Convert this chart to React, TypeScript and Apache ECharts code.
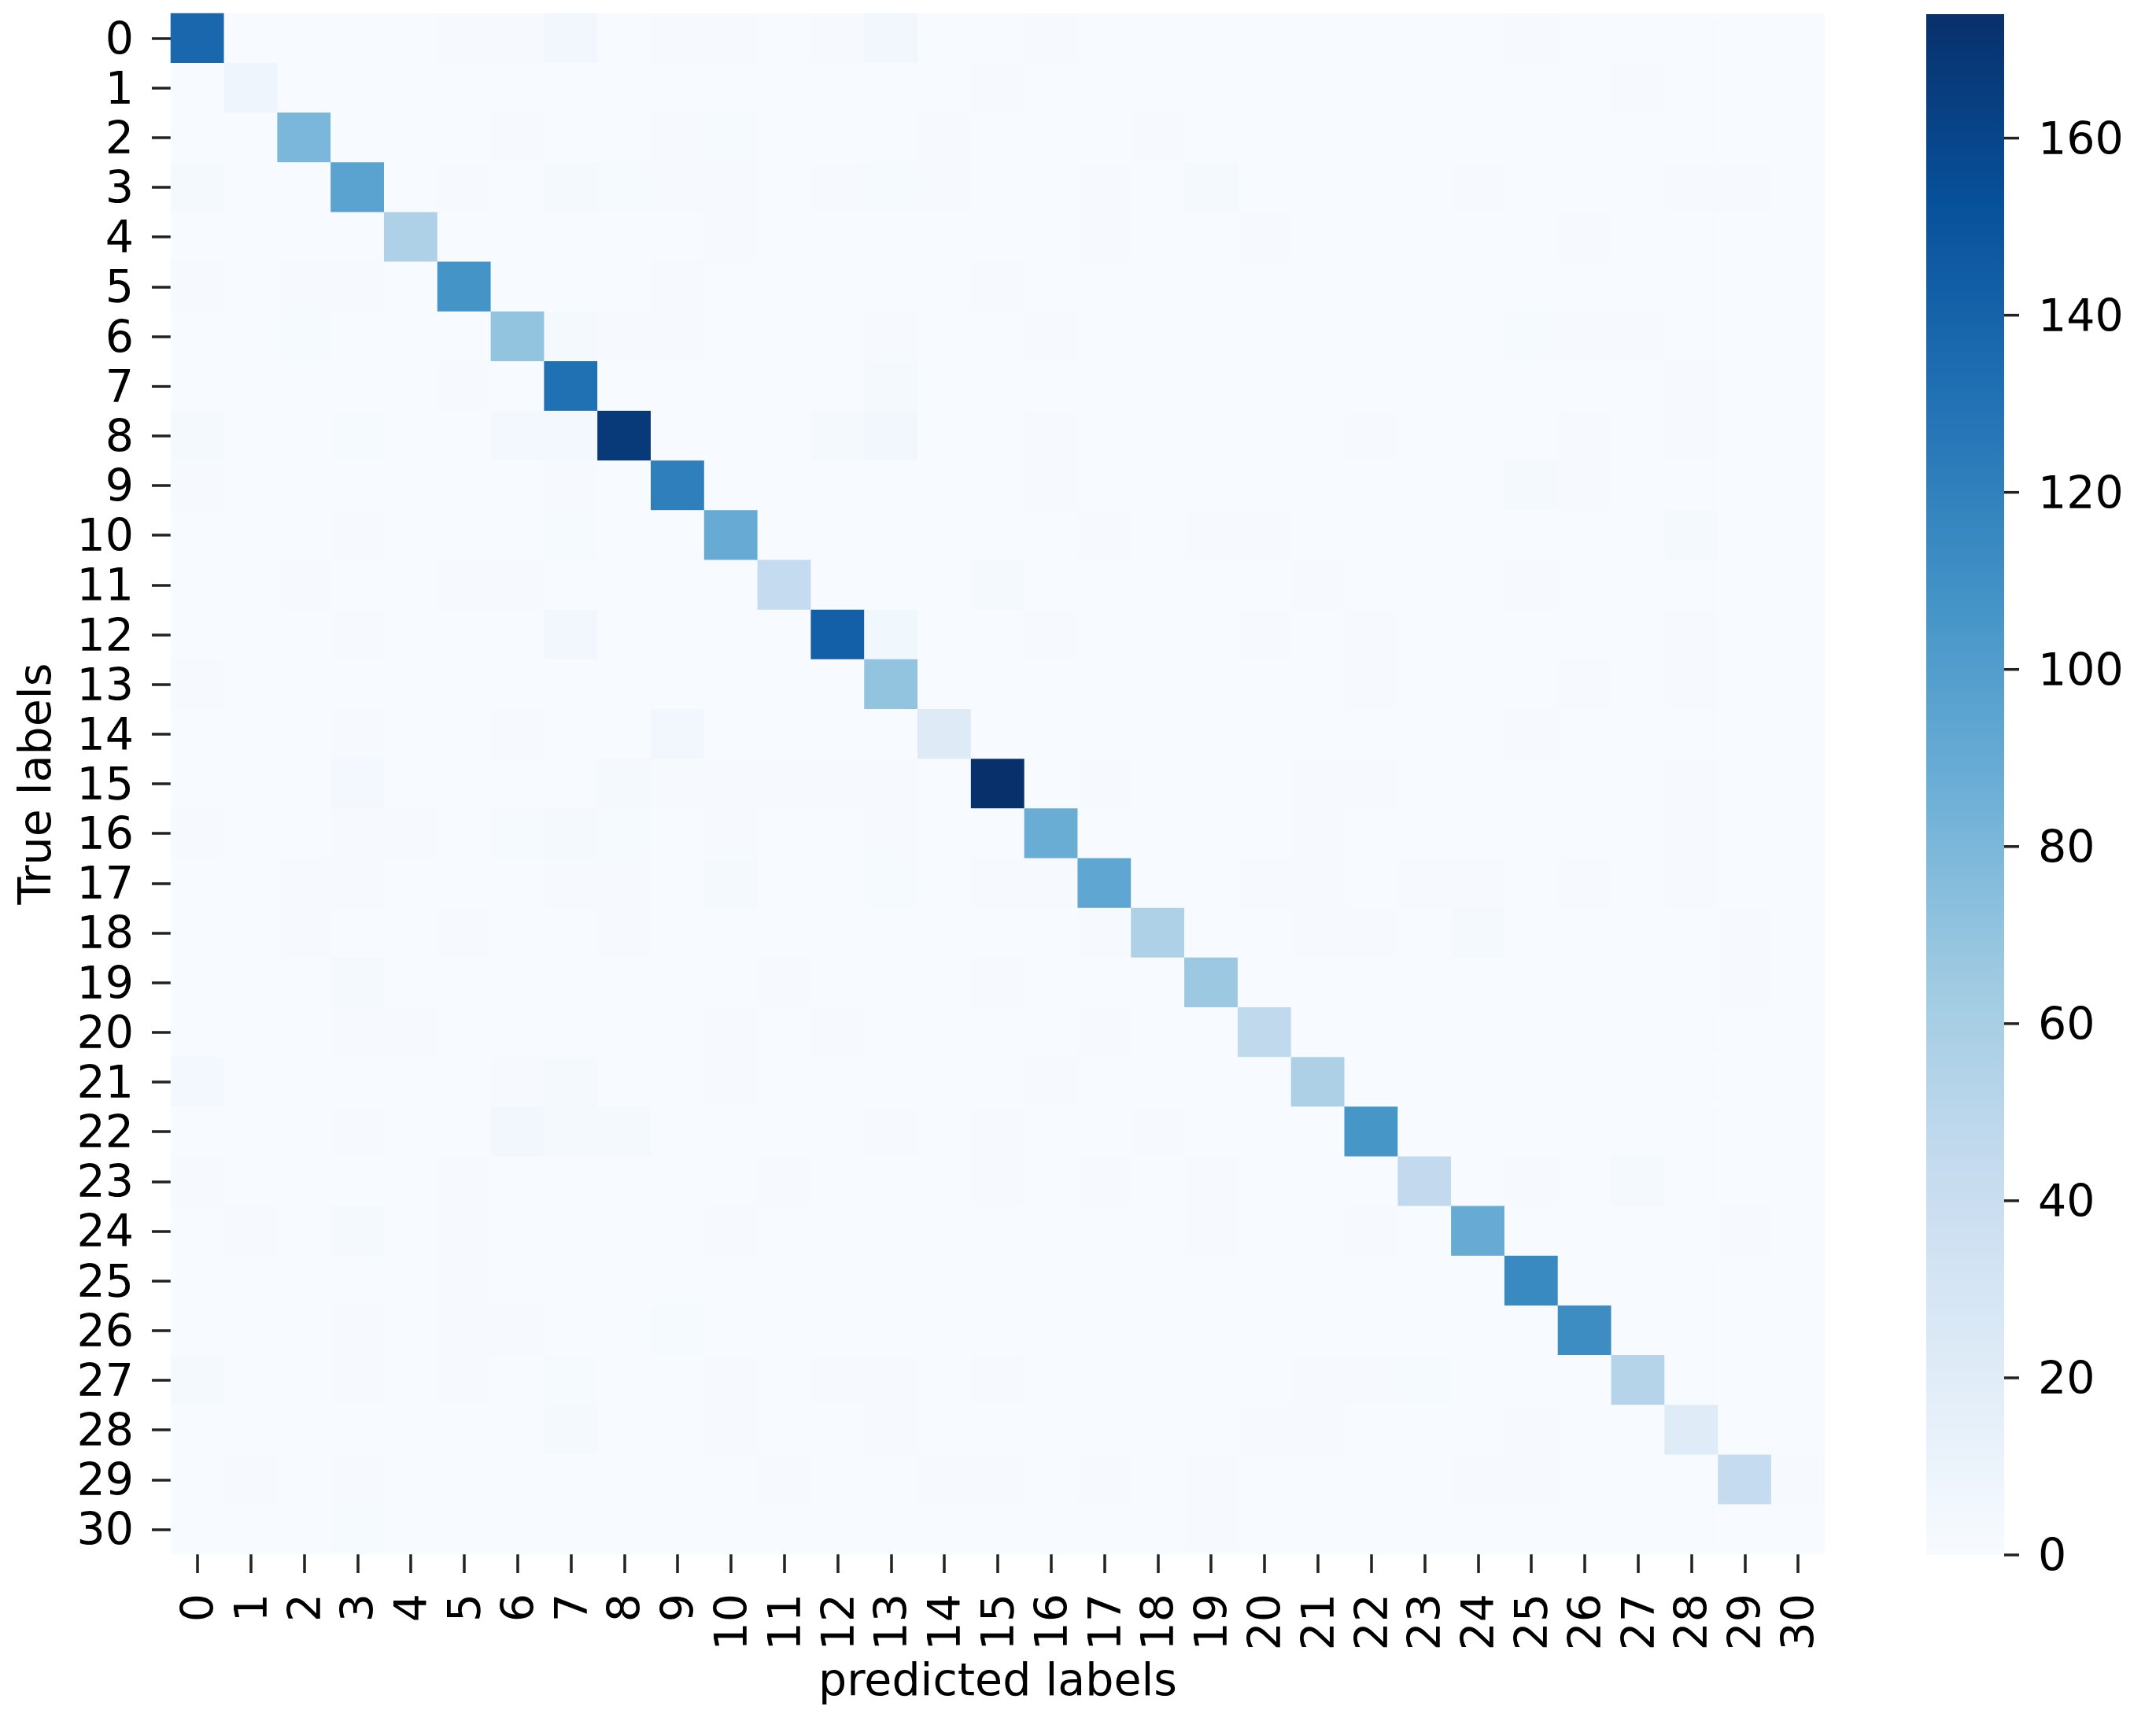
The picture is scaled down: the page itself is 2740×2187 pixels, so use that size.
import React, { useEffect, useRef } from "react";
import * as echarts from "echarts";

// category labels (predicted = columns, true = rows)
const classLabels = [
  "0", "1", "2", "3", "4", "5", "6", "7", "8", "9", "10", "11", "12", "13", "14", "15",
  "16", "17", "18", "19", "20", "21", "22", "23", "24", "25", "26", "27", "28", "29", "30",
];

// correct predictions (diagonal of the confusion matrix)
const diagonal = [
  137, 8, 80, 96, 56, 107, 70, 131, 168, 121, 89, 44, 142, 70, 22, 174,
  88, 93, 56, 66, 46, 57, 106, 45, 89, 114, 112, 53, 21, 44, 0,
];

// misclassifications: [true label, predicted label, count]
const offDiagonal: [number, number, number][] = [
  [0, 5, 1], [0, 6, 1], [0, 7, 5], [0, 9, 1], [0, 10, 1], [0, 12, 1], [0, 13, 5], [0, 16, 1], [0, 25, 1],
  [1, 15, 1], [1, 27, 1],
  [2, 6, 1], [2, 9, 1], [2, 10, 2], [2, 14, 1], [2, 18, 1],
  [3, 0, 3], [3, 5, 1], [3, 7, 3], [3, 8, 2], [3, 9, 1], [3, 10, 1], [3, 12, 1], [3, 13, 2], [3, 14, 1],
  [3, 17, 1], [3, 19, 3], [3, 24, 1], [3, 28, 1], [3, 29, 1],
  [4, 10, 1], [4, 17, 1], [4, 20, 1], [4, 26, 1],
  [5, 0, 1], [5, 2, 1], [5, 3, 1], [5, 9, 1], [5, 15, 1],
  [6, 2, 2], [6, 7, 3], [6, 8, 1], [6, 9, 1], [6, 13, 1], [6, 16, 1], [6, 25, 2], [6, 26, 1], [6, 27, 1],
  [7, 5, 1], [7, 13, 3], [7, 28, 1],
  [8, 0, 3], [8, 3, 2], [8, 6, 4], [8, 7, 4], [8, 12, 3], [8, 13, 5], [8, 16, 1], [8, 22, 1], [8, 26, 1], [8, 28, 1],
  [9, 0, 1], [9, 7, 1], [9, 16, 1], [9, 25, 3], [9, 26, 1],
  [10, 3, 1], [10, 7, 2], [10, 17, 1], [10, 19, 1], [10, 20, 1], [10, 28, 3],
  [11, 2, 1], [11, 5, 1], [11, 6, 1], [11, 15, 3], [11, 21, 1], [11, 25, 1],
  [12, 3, 1], [12, 7, 5], [12, 13, 6], [12, 16, 1], [12, 20, 1], [12, 22, 1], [12, 28, 1],
  [13, 0, 1], [13, 22, 1], [13, 26, 1], [13, 28, 1],
  [14, 3, 1], [14, 6, 1], [14, 9, 5], [14, 25, 1],
  [15, 3, 4], [15, 8, 3], [15, 9, 1], [15, 10, 1], [15, 11, 1], [15, 12, 1], [15, 13, 1], [15, 17, 1], [15, 21, 1], [15, 22, 1], [15, 28, 1],
  [16, 0, 1], [16, 3, 1], [16, 4, 1], [16, 6, 2], [16, 7, 3], [16, 8, 2], [16, 10, 1], [16, 13, 1], [16, 21, 1], [16, 28, 1],
  [17, 2, 1], [17, 3, 1], [17, 7, 1], [17, 8, 1], [17, 10, 3], [17, 13, 2], [17, 15, 1], [17, 16, 1], [17, 20, 1], [17, 21, 1], [17, 23, 1], [17, 24, 1], [17, 26, 1], [17, 28, 1],
  [18, 2, 1], [18, 5, 1], [18, 8, 1], [18, 17, 1], [18, 21, 1], [18, 22, 1], [18, 24, 3], [18, 29, 1],
  [19, 3, 3], [19, 11, 1], [19, 15, 1], [19, 29, 1],
  [20, 3, 1], [20, 4, 1], [20, 10, 1], [20, 12, 1], [20, 17, 1],
  [21, 0, 4], [21, 6, 1], [21, 7, 3], [21, 10, 1], [21, 16, 1],
  [22, 3, 1], [22, 6, 5], [22, 7, 3], [22, 8, 3], [22, 13, 1], [22, 15, 1], [22, 18, 1],
  [23, 0, 1], [23, 5, 1], [23, 11, 1], [23, 15, 1], [23, 17, 1], [23, 19, 1], [23, 25, 1], [23, 27, 3],
  [24, 1, 1], [24, 3, 3], [24, 5, 1], [24, 10, 1], [24, 19, 1], [24, 22, 1], [24, 29, 1],
  [25, 5, 1],
  [26, 3, 1], [26, 5, 1], [26, 6, 1], [26, 9, 2],
  [27, 0, 3], [27, 3, 1], [27, 5, 1], [27, 7, 2], [27, 10, 1], [27, 12, 1], [27, 13, 1], [27, 15, 1], [27, 21, 1], [27, 22, 1], [27, 23, 2],
  [28, 7, 3], [28, 10, 1], [28, 13, 1], [28, 20, 1], [28, 21, 1], [28, 25, 1],
  [29, 1, 1], [29, 3, 1], [29, 11, 1], [29, 14, 1], [29, 15, 1], [29, 17, 1], [29, 19, 1], [29, 24, 1], [29, 25, 1], [29, 30, 1],
  [30, 3, 2], [30, 19, 1],
];

// colour bar
const colorbarTicks = [0, 20, 40, 60, 80, 100, 120, 140, 160];
const colorMin = 0;
const colorMax = 174;

// matplotlib "Blues"
const blues = [
  "#f7fbff", "#deebf7", "#c6dbef", "#9ecae1", "#6baed6",
  "#4292c6", "#2171b5", "#08519c", "#08306b",
];

const FONT = "DejaVu Sans";
const FS = 57;
const TICK_COLOR = "#222";
const TICK_WIDTH = 3.5;

function buildCells(): [number, number, number][] {
  const n = classLabels.length;
  const m: number[][] = [];
  for (let r = 0; r < n; r++) {
    m.push(new Array(n).fill(0));
  }
  diagonal.forEach((v, i) => {
    m[i][i] = v;
  });
  offDiagonal.forEach(([r, c, v]) => {
    m[r][c] = v;
  });
  const cells: [number, number, number][] = [];
  for (let r = 0; r < n; r++) {
    for (let c = 0; c < n; c++) {
      cells.push([c, r, m[r][c]]);
    }
  }
  return cells;
}

const HM = { left: 217, top: 17, width: 2102, height: 1958 };
const CB = { left: 2448, top: 18, width: 99, height: 1958 };
const CB_TICK_LEN = 19;

export default function App() {
  const ref = useRef<HTMLDivElement>(null);

  useEffect(() => {
    document.body.style.margin = "0";
    if (!ref.current) return;
    const chart = echarts.init(ref.current, undefined, { renderer: "svg" });

    const tickStyle = { color: TICK_COLOR, width: TICK_WIDTH };
    const gradientStops = blues.map((c, i) => ({ offset: i / (blues.length - 1), color: c }));

    chart.setOption({
      animation: false,
      backgroundColor: "#ffffff",
      textStyle: { fontFamily: FONT },
      grid: [
        { ...HM },
        { ...CB },
      ],
      xAxis: [
        {
          type: "category",
          gridIndex: 0,
          data: classLabels,
          position: "bottom",
          axisLine: { show: false },
          axisTick: { show: true, alignWithLabel: true, length: 24, interval: 0, lineStyle: tickStyle },
          axisLabel: {
            interval: 0,
            rotate: 90,
            margin: 50,
            fontSize: FS,
            fontFamily: FONT,
            color: "#000",
          },
          splitLine: { show: false },
          splitArea: { show: false },
          name: "predicted labels",
          nameLocation: "middle",
          nameGap: 130,
          nameTextStyle: { fontSize: FS, fontFamily: FONT, color: "#000" },
        },
        {
          type: "value",
          gridIndex: 1,
          min: 0,
          max: 1,
          axisLine: { show: false },
          axisTick: { show: false },
          axisLabel: { show: false },
          splitLine: { show: false },
        },
      ],
      yAxis: [
        {
          type: "category",
          gridIndex: 0,
          data: classLabels,
          inverse: true,
          axisLine: { show: false },
          axisTick: { show: true, alignWithLabel: true, length: 24, interval: 0, lineStyle: tickStyle },
          axisLabel: {
            interval: 0,
            margin: 47,
            fontSize: FS,
            fontFamily: FONT,
            color: "#000",
          },
          splitLine: { show: false },
          splitArea: { show: false },
          name: "True labels",
          nameLocation: "middle",
          nameGap: 145,
          nameTextStyle: { fontSize: FS, fontFamily: FONT, color: "#000" },
        },
        {
          type: "value",
          gridIndex: 1,
          position: "right",
          min: colorMin,
          max: colorMax,
          axisLine: { show: false },
          axisTick: { show: false },
          axisLabel: {
            customValues: colorbarTicks,
            margin: 43,
            fontSize: FS,
            fontFamily: FONT,
            color: "#000",
          },
          splitLine: { show: false },
        },
      ],
      visualMap: {
        show: false,
        type: "continuous",
        seriesIndex: 0,
        min: colorMin,
        max: colorMax,
        inRange: { color: blues },
      },
      series: [
        {
          type: "heatmap",
          xAxisIndex: 0,
          yAxisIndex: 0,
          data: buildCells(),
          itemStyle: { borderWidth: 0 },
          emphasis: { disabled: true },
          progressive: 0,
        },
        {
          // colour bar gradient, spanning the colour scale through the bar's axis
          type: "custom",
          xAxisIndex: 1,
          yAxisIndex: 1,
          silent: true,
          clip: false,
          z: 1,
          data: [[0, colorMin, 1, colorMax]],
          renderItem: (_params: any, api: any) => {
            const p0 = api.coord([api.value(0), api.value(1)]);
            const p1 = api.coord([api.value(2), api.value(3)]);
            return {
              type: "rect",
              shape: {
                x: p0[0],
                y: p1[1],
                width: p1[0] - p0[0],
                height: p0[1] - p1[1],
              },
              style: {
                fill: new echarts.graphic.LinearGradient(0, 1, 0, 0, gradientStops),
              },
            };
          },
        },
        {
          // colour bar tick marks on its right edge
          type: "custom",
          xAxisIndex: 1,
          yAxisIndex: 1,
          silent: true,
          clip: false,
          z: 3,
          data: colorbarTicks.map((v) => [1, v]),
          renderItem: (_params: any, api: any) => {
            const p = api.coord([api.value(0), api.value(1)]);
            return {
              type: "line",
              shape: { x1: p[0], y1: p[1], x2: p[0] + CB_TICK_LEN, y2: p[1] },
              style: { stroke: TICK_COLOR, lineWidth: TICK_WIDTH },
            };
          },
        },
      ],
    });

    return () => {
      chart.dispose();
    };
  }, []);

  return <div ref={ref} style={{ width: 2740, height: 2187 }} />;
}
